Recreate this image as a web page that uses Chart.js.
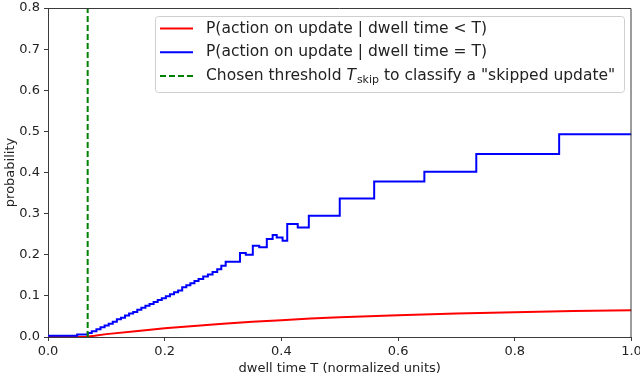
<!DOCTYPE html>
<html>
<head>
<meta charset="utf-8">
<title>dwell time vs probability</title>
<script src="https://cdn.jsdelivr.net/npm/chart.js@4.4.1/dist/chart.umd.min.js"></script>
<style>
    html, body { margin: 0; padding: 0; background: #fff; }
    #wrap { width: 640px; height: 379px; }
</style>
</head>
<body>
<div id="wrap"><canvas id="chart"></canvas></div>
<script>
// P(action | dwell time = T): step curve, each value holds from its T until the next T
const blueT = [0, 0.05, 0.068, 0.075, 0.083, 0.090, 0.097, 0.104, 0.111, 0.118, 0.125,
    0.132, 0.139, 0.146, 0.153, 0.160, 0.167, 0.174, 0.181, 0.188, 0.195, 0.202, 0.209,
    0.216, 0.223, 0.230, 0.237, 0.244, 0.251, 0.258, 0.266, 0.274, 0.282, 0.290, 0.297,
    0.3045, 0.329, 0.339, 0.351, 0.362, 0.375, 0.385, 0.392, 0.402, 0.410, 0.428, 0.447,
    0.500, 0.559, 0.645, 0.734, 0.876, 1.0];
const blueP = [0.003, 0.006, 0.010, 0.014, 0.019, 0.024, 0.028, 0.032, 0.037, 0.043, 0.047,
    0.052, 0.057, 0.061, 0.066, 0.071, 0.076, 0.080, 0.085, 0.090, 0.094, 0.099, 0.104,
    0.109, 0.113, 0.121, 0.126, 0.131, 0.136, 0.141, 0.147, 0.152, 0.158, 0.165, 0.173,
    0.183, 0.204, 0.200, 0.222, 0.218, 0.238, 0.248, 0.242, 0.234, 0.275, 0.266, 0.295,
    0.337, 0.378, 0.402, 0.445, 0.493, 0.493];

// P(action | dwell time < T): smooth curve
const redT = [0, 0.05, 0.065, 0.08, 0.1, 0.15, 0.2, 0.25, 0.3, 0.35, 0.4, 0.45, 0.5,
    0.6, 0.7, 0.8, 0.9, 1.0];
const redP = [0, 0, 0.0005, 0.003, 0.007, 0.014, 0.021, 0.027, 0.032, 0.037, 0.041, 0.045,
    0.048, 0.053, 0.057, 0.060, 0.063, 0.065];

// chosen threshold T_skip
const thresholdT = 0.068;

const xTicks = [0, 0.2, 0.4, 0.6, 0.8, 1.0];
const yTicks = [0, 0.1, 0.2, 0.3, 0.4, 0.5, 0.6, 0.7, 0.8];

const legendLabels = [
    'P(action on update | dwell time < T)',
    'P(action on update | dwell time = T)',
    'Chosen threshold T_skip to classify a "skipped update"'
];
// third label drawn in pieces (italic T with a roman subscript)
const thresholdLabelParts = [
    { text: 'Chosen threshold ' },
    { text: 'T', italic: true },
    { text: 'skip', sub: true },
    { text: ' to classify a "skipped update"' }
];

const FONT = "'DejaVu Sans', sans-serif";
const INK = '#222';
const SPINE = '#3a3a3a';

const pts = (xs, ys) => xs.map((x, i) => ({ x: x, y: ys[i] }));

// top and right spines like a matplotlib frame
const framePlugin = {
    id: 'frame',
    afterDatasetsDraw(chart) {
        const { ctx, chartArea: a } = chart;
        ctx.save();
        ctx.strokeStyle = SPINE;
        ctx.lineWidth = 1;
        ctx.beginPath();
        ctx.moveTo(a.left, a.top + 0.5);
        ctx.lineTo(a.right - 0.5, a.top + 0.5);
        ctx.lineTo(a.right - 0.5, a.bottom);
        ctx.stroke();
        ctx.restore();
    }
};

// legend box inside the plot, upper right
const legendPlugin = {
    id: 'insideLegend',
    afterDraw(chart) {
        const { ctx, chartArea: a } = chart;
        const datasets = chart.data.datasets;
        const bx = a.left + 107, by = a.top + 8, bw = 469, bh = 76;
        ctx.save();
        ctx.fillStyle = 'rgba(255,255,255,0.85)';
        ctx.strokeStyle = '#cfcfcf';
        ctx.lineWidth = 1;
        ctx.beginPath();
        ctx.roundRect(bx + 0.5, by + 0.5, bw, bh, 3);
        ctx.fill();
        ctx.stroke();

        ctx.textBaseline = 'middle';
        ctx.fillStyle = INK;
        for (let i = 0; i < 3; i++) {
            const ds = datasets[i];
            const cy = by + 12.5 + i * 23.8;
            ctx.strokeStyle = ds.borderColor;
            ctx.lineWidth = 2;
            ctx.setLineDash(ds.borderDash || []);
            ctx.beginPath();
            ctx.moveTo(bx + 5, cy);
            ctx.lineTo(bx + 38, cy);
            ctx.stroke();
            ctx.setLineDash([]);

            let tx = bx + 51;
            if (i < 2) {
                ctx.font = '15.5px ' + FONT;
                ctx.fillText(legendLabels[i], tx, cy);
            } else {
                thresholdLabelParts.forEach(p => {
                    if (p.sub) {
                        ctx.font = '11px ' + FONT;
                        ctx.fillText(p.text, tx + 1, cy + 4);
                        tx += ctx.measureText(p.text).width + 1;
                    } else {
                        ctx.font = (p.italic ? 'italic ' : '') + '15.5px ' + FONT;
                        ctx.fillText(p.text, tx, cy);
                        tx += ctx.measureText(p.text).width;
                    }
                });
            }
        }
        ctx.restore();
    }
};

const ctx = document.getElementById('chart').getContext('2d');
new Chart(ctx, {
    type: 'line',
    data: {
        datasets: [
            {
                label: legendLabels[0],
                data: pts(redT, redP),
                borderColor: '#ff0000',
                borderWidth: 2,
                pointRadius: 0,
                tension: 0,
                order: 2
            },
            {
                label: legendLabels[1],
                data: pts(blueT, blueP),
                borderColor: '#0000ff',
                borderWidth: 2,
                pointRadius: 0,
                stepped: 'before',
                order: 1
            },
            {
                label: legendLabels[2],
                data: pts([thresholdT, thresholdT], [yTicks[0], yTicks[yTicks.length - 1]]),
                borderColor: '#008000',
                borderWidth: 2,
                borderDash: [6, 3],
                pointRadius: 0,
                order: 0
            }
        ]
    },
    options: {
        animation: false,
        responsive: true,
        maintainAspectRatio: false,
        devicePixelRatio: 1,
        layout: { padding: { left: 0, right: 8.5, top: 8, bottom: 0 } },
        plugins: {
            legend: { display: false },
            tooltip: { enabled: false }
        },
        scales: {
            x: {
                type: 'linear',
                min: 0,
                max: 1,
                afterBuildTicks: s => { s.ticks = xTicks.map(v => ({ value: v })); },
                ticks: {
                    callback: v => v.toFixed(1),
                    color: INK,
                    font: { family: FONT, size: 13 },
                    padding: 3,
                    maxRotation: 0
                },
                grid: { drawOnChartArea: false, drawTicks: true, tickLength: 4, color: SPINE },
                border: { display: true, color: SPINE, width: 1 },
                title: {
                    display: true,
                    text: 'dwell time T (normalized units)',
                    color: INK,
                    font: { family: FONT, size: 13 },
                    padding: { top: 0, bottom: 3 }
                },
                afterFit: s => { s.height = 42; s.paddingLeft = 0; s.paddingRight = 0; }
            },
            y: {
                type: 'linear',
                min: 0,
                max: 0.8,
                afterBuildTicks: s => { s.ticks = yTicks.map(v => ({ value: v })); },
                ticks: {
                    callback: v => v.toFixed(1),
                    color: INK,
                    font: { family: FONT, size: 13 },
                    padding: 4
                },
                grid: { drawOnChartArea: false, drawTicks: true, tickLength: 4, color: SPINE },
                border: { display: true, color: SPINE, width: 1 },
                title: {
                    display: true,
                    text: 'probability',
                    color: INK,
                    font: { family: FONT, size: 13 },
                    padding: { top: 3, bottom: 0 }
                },
                afterFit: s => { s.width = 48; s.paddingTop = 0; s.paddingBottom = 0; }
            }
        }
    },
    plugins: [framePlugin, legendPlugin]
});
</script>
</body>
</html>
